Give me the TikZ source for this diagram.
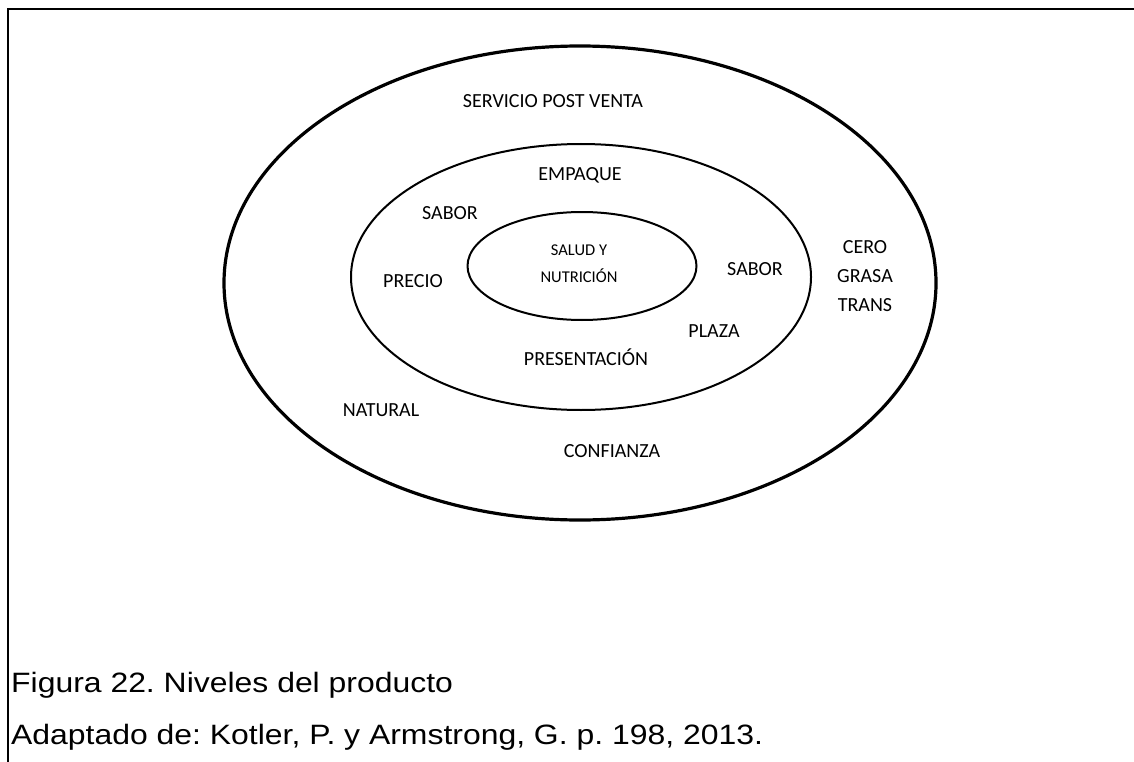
\documentclass[tikz,border=0pt]{standalone}
\usepackage{fontspec}
\setmainfont{Carlito}
\newfontfamily\captionfont[FakeStretch=1.14]{Liberation Sans}
\usetikzlibrary{shapes.geometric}
\frenchspacing

\begin{document}
\begin{tikzpicture}[x=1pt, y=-1pt, every node/.style={inner sep=0pt},
	ring/.style={draw, ellipse, inner sep=0pt},
	lbl/.style={font=\fontsize{20}{29}\selectfont, anchor=center},
	capline/.style={font=\captionfont\fontsize{28}{30}\selectfont, anchor=base west}]
	\useasboundingbox (0,0) rectangle (1134,762);
	% frame
	\draw[line width=2pt] (8,762) -- (8,9) -- (1134,9);
	% levels
	\node[ring, line width=3.2pt, minimum width=712pt, minimum height=474pt] (outer) at (580,283) {};
	\node[ring, line width=2pt, minimum width=460pt, minimum height=266pt] (middle) at (581,277) {};
	\node[ring, line width=2pt, minimum width=229pt, minimum height=108pt] (core) at (582,266) {};
	% core
	\node[font=\fontsize{16.5}{27}\selectfont, align=center] (salud) at (579,264) {SALUD Y\\NUTRICIÓN};
	% real product
	\node[lbl] (empaque) at (580,175) {EMPAQUE};
	\node[lbl] (saborl) at (450,213) {SABOR};
	\node[lbl] (precio) at (413,281) {PRECIO};
	\node[lbl] (saborr) at (755,269) {SABOR};
	\node[lbl] (plaza) at (714,331) {PLAZA};
	\node[lbl] (present) at (586,357) {PRESENTACIÓN};
	% augmented product
	\node[lbl] (servicio) at (553,101) {SERVICIO POST VENTA};
	\node[lbl, align=center] (cero) at (865,276) {CERO\\GRASA\\TRANS};
	\node[lbl] (natural) at (381,410) {NATURAL};
	\node[lbl] (confianza) at (612,451) {CONFIANZA};
	% caption
	\node[capline] (fig) at (11,692) {Figura 22. Niveles del producto};
	\node[capline] (src) at (11,744) {Adaptado de: Kotler, P. y Armstrong, G. p. 198, 2013.};
\end{tikzpicture}
\end{document}
